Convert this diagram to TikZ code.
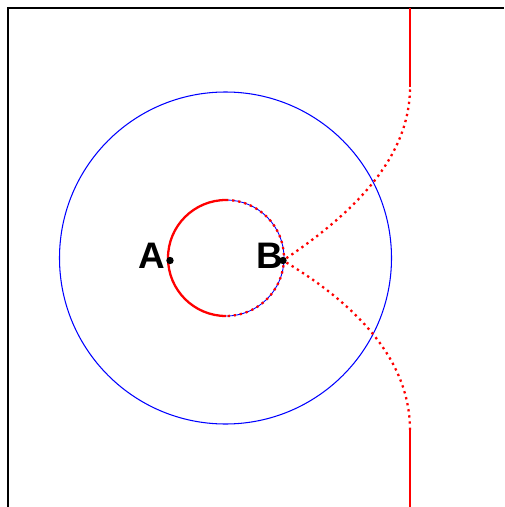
\documentclass[tikz,border=0pt]{standalone}
\usepackage{fontspec}
\setsansfont{Liberation Sans}
\usetikzlibrary{positioning}
\begin{document}
\begin{tikzpicture}[x=0.02cm, y=-0.02cm,
	point/.style={circle, fill, inner sep=0pt, minimum size=4.2pt},
	letter/.style={font=\fontsize{21}{21}\selectfont\sffamily\bfseries, inner sep=0pt, yshift=2.8pt},
	reddots/.style={red, line width=1.3pt, dash pattern=on 1.3pt off 2.2pt},
	redline/.style={red, line width=1.3pt}]
	\useasboundingbox (0,0) rectangle (504,507);

	% frame
	\draw [line width=1.2pt] (8,507) -- (8,8) -- (504,8);

	% circles
	\draw [blue, line width=0.6pt] (225.5,258) circle (166);
	\draw [blue, line width=0.5pt] (226,258) circle (58);
	\draw [redline] (226,316) arc (90:270:58);
	\draw [reddots] (226,200) arc (-90:90:58);

	\node [point] (A) at (170,260.5) {};
	\node [point] (B) at (283,260.5) {};
	\node [letter, left=0.3pt of A] {A};
	\node [letter, left=-2.7pt of B] {B};

	\coordinate (top1) at (410,87);
	\coordinate (top0) at (410,8);
	\coordinate (bot1) at (410,430);
	\coordinate (bot0) at (410,507);

	\begin{scope}
		\draw [reddots] (B) .. controls (350,215) and (410,160) .. (top1);
		\draw [redline] (top1) -- (top0);
		\draw [reddots] (B) .. controls (350,301) and (410,356) .. (bot1);
		\draw [redline] (bot1) -- (bot0);
	\end{scope}
\end{tikzpicture}
\end{document}
